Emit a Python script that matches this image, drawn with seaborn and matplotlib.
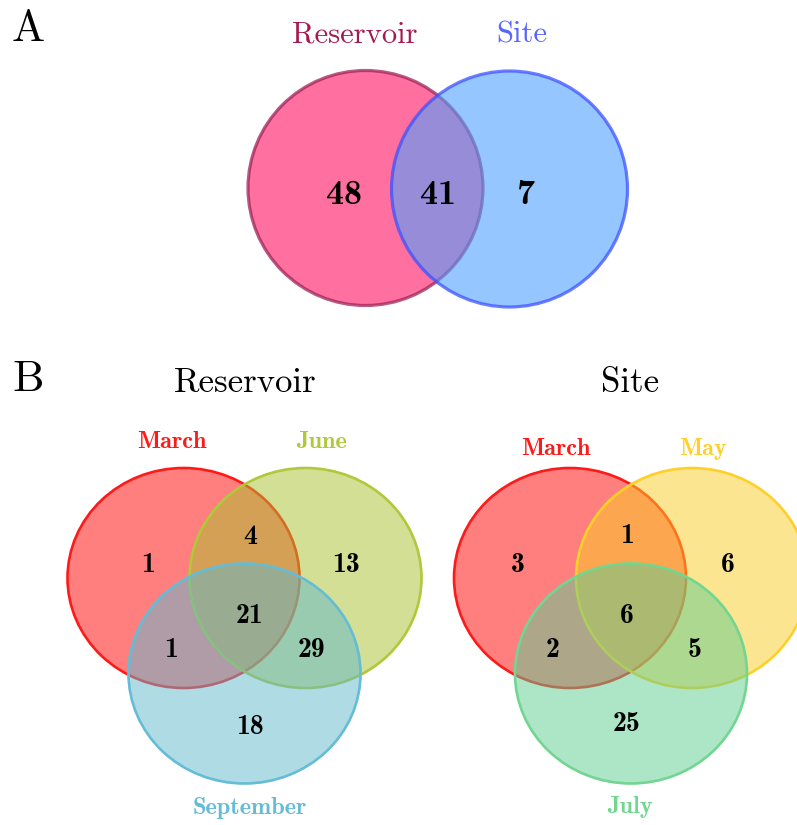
import seaborn as sns
import matplotlib.pyplot as plt
from matplotlib.patches import Ellipse

# panel A: two-set venn
a_sets = ["Reservoir", "Site"]
a_counts = [48, 41, 7]  # Reservoir only, both, Site only

# panel B: three-set venns (A only, AB, B only, ABC, AC, BC, C only)
res_sets = ["March", "June", "September"]
res_counts = [1, 4, 13, 21, 1, 29, 18]
site_sets = ["March", "May", "July"]
site_counts = [3, 1, 6, 6, 2, 5, 25]

sns.set_theme(style="white")
plt.rcParams['font.family'] = ['cmr10', 'DejaVu Sans']
plt.rcParams['text.color'] = 'black'

W, H = 797, 825
fig = plt.figure(figsize=(W / 100, H / 100), dpi=100)
ax = fig.add_axes([0, 0, 1, 1])
ax.set_xlim(0, W)
ax.set_ylim(H, 0)
ax.axis('off')


def circle(x, y, rx, ry, color, edge, alpha=0.5, ealpha=1.0, lw=1.9):
    e = Ellipse((x, y), 2 * rx, 2 * ry, facecolor=(*color, alpha),
                edgecolor=(*edge, ealpha), lw=lw)
    ax.add_patch(e)


def rgb(h):
    h = h.lstrip('#')
    return tuple(int(h[i:i + 2], 16) / 255 for i in (0, 2, 4))


# ---- A ----
ax.text(12, 30, "A", fontsize=32, ha='left', va='center')
circle(365.5, 188, 117.5, 117.5, rgb('#ff0f61'), rgb('#9e2458'), alpha=0.6, ealpha=0.75, lw=2.3)
circle(509.5, 189, 118, 118, rgb('#50a0ff'), rgb('#3d52ff'), alpha=0.6, ealpha=0.75, lw=2.3)
ax.text(355, 35, a_sets[0], fontsize=22, color='#a8174f', ha='center', va='center')
ax.text(522, 35, a_sets[1], fontsize=22, color='#5566ff', ha='center', va='center')
for v, x in zip(a_counts, [344, 438, 526]):
    ax.text(x, 195, str(v), fontsize=26, family='cmb10', ha='center', va='center')

# ---- B ----
ax.text(12, 380, "B", fontsize=32, ha='left', va='center')


def venn3(cx, titles, counts, colors, edges, label_pos, spots, title, tx):
    cs = [(cx - 61, 578), (cx + 61, 578), (cx, 673.5)]
    for (x, y), c, e in zip(cs, colors, edges):
        circle(x, y, 116, 110, rgb(c), rgb(e))
    for v, (x, y) in zip(counts, spots):
        ax.text(x, y, str(v), fontsize=20, family='cmb10', ha='center', va='center')
    for t, (x, y), e in zip(titles, label_pos, edges):
        ax.text(x, y, t, fontsize=17.5, family='cmb10', color=e, ha='center', va='center')
    ax.text(tx, 383, title, fontsize=25, ha='center', va='center')


venn3(244.5, res_sets, res_counts,
      ['#ff0000', '#a9c12d', '#61b9cd'], ['#ff1a1a', '#b0c83a', '#65bcd6'],
      [(172, 442), (322, 442), (250, 808)],
      [(148, 565), (250, 537), (346, 565), (250, 616), (171, 650), (312, 650), (250, 727)],
      a_sets[0], 245)
venn3(631, site_sets, site_counts,
      ['#ff0000', '#fbcd23', '#5dcd91'], ['#ff1a1a', '#ffcf2a', '#72d691'],
      [(556, 449), (703, 449), (630, 807)],
      [(518, 565), (627, 536), (728, 565), (627, 616), (553, 650), (695, 650), (627, 724)],
      a_sets[1], 630)

fig.savefig('out.png', dpi=100)
